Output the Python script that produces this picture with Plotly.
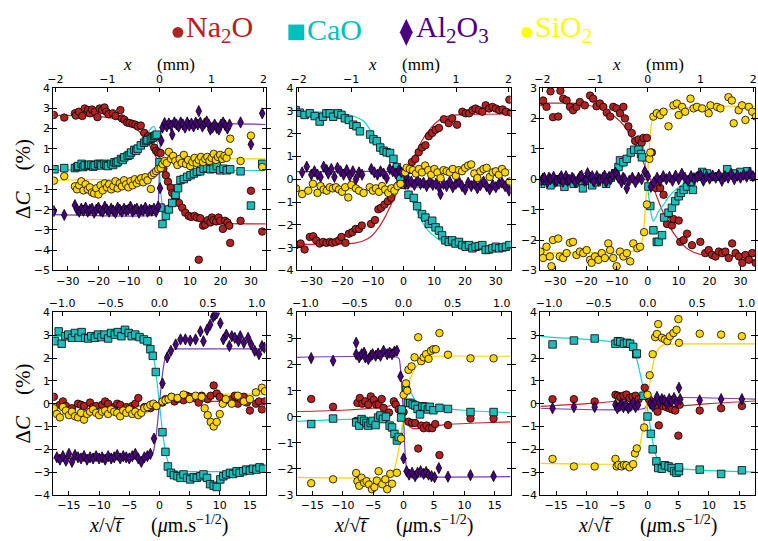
import plotly.graph_objects as go

W, H = 758, 541

# ------------------------------------------------------------------ data
# each list holds (x/sqrt(t), deltaC) pairs
p1_na = [(-34.6,2.67),(-31.2,2.54),(-27.7,2.75),(-27.4,2.64),(-26.4,2.83),(-25.3,2.62),(-24.5,2.99),(-23.4,2.91),(-22.8,2.75),(-22.1,2.94),(-21.2,2.83),(-20.3,2.56),(-19.6,2.99),(-18.8,2.91),(-18.0,3.04),(-17.4,2.83),(-16.7,2.71),(-15.3,2.75),(-14.4,2.62),(-12.8,2.91),(-12.3,2.50),(-11.5,2.43),(-10.6,2.30),(-9.8,2.27),(-8.8,2.23),(-7.9,2.19),(-7.1,2.10),(-6.1,2.15),(-5.0,1.79),(-3.7,1.62),(-2.8,1.43),(-1.7,1.06),(-1.1,0.90),(-0.4,0.82),(0.4,0.79),(1.3,0.02),(2.1,-0.30),(2.8,-0.62),(3.7,-0.91),(4.2,-1.18),(5.3,-1.43),(6.4,-1.67),(7.5,-1.91),(8.5,-2.15),(9.6,-2.31),(10.4,-2.36),(11.5,-2.31),(12.3,-2.39),(12.9,-4.47),(13.4,-2.42),(14.3,-2.79),(15.0,-2.74),(15.8,-2.52),(16.7,-2.63),(17.2,-2.39),(17.7,-2.52),(18.6,-2.58),(19.4,-2.39),(19.9,-2.55),(20.8,-2.95),(21.5,-2.55),(22.3,-2.63),(22.9,-2.79),(23.2,-3.64),(26.6,-2.55),(30.0,-1.07),(33.7,-3.08)]
p1_ca = [(-34.4,-0.01),(-31.2,0.05),(-27.7,0.05),(-27.0,0.10),(-26.6,0.15),(-25.5,0.26),(-25.0,0.10),(-24.5,0.18),(-23.4,0.15),(-23.0,0.22),(-22.3,0.21),(-21.7,0.12),(-21.2,0.18),(-20.1,0.26),(-19.5,0.25),(-19.0,0.18),(-18.0,0.26),(-17.4,0.20),(-16.9,0.15),(-15.8,0.26),(-15.2,0.20),(-14.7,0.34),(-14.1,0.30),(-13.6,0.37),(-12.6,0.50),(-12.0,0.45),(-11.5,0.58),(-10.4,0.66),(-9.8,0.70),(-9.3,0.82),(-8.2,0.95),(-7.6,0.90),(-7.1,1.01),(-6.1,1.17),(-5.0,1.30),(-4.4,1.38),(-3.9,1.43),(-2.8,1.49),(-2.2,1.55),(-1.7,1.62),(-1.3,1.65),(-0.9,1.70),(0.0,0.34),(0.4,-1.90),(1.0,-2.71),(2.1,-2.31),(3.1,-1.99),(4.2,-1.67),(5.3,-1.27),(6.1,-0.94),(6.9,-0.54),(8.0,-0.49),(9.1,-0.38),(10.2,-0.30),(11.3,-0.22),(12.3,-0.14),(13.4,-0.11),(14.5,0.02),(15.6,0.05),(16.7,-0.01),(17.7,0.02),(18.8,0.15),(19.9,-0.06),(21.0,0.02),(22.1,-0.06),(23.2,-0.01),(26.6,-0.11),(30.0,-1.80),(33.7,0.26)]
p1_al = [(-34.6,-2.07),(-31.2,-2.26),(-27.7,-1.78),(-27.0,-2.0),(-26.3,-2.1),(-25.6,-1.95),(-24.9,-2.05),(-24.2,-1.9),(-23.5,-2.1),(-22.8,-2.0),(-22.1,-1.95),(-21.4,-2.15),(-20.7,-2.0),(-20.0,-1.9),(-19.3,-2.05),(-18.6,-2.1),(-17.9,-1.85),(-17.2,-2.0),(-16.5,-2.1),(-15.8,-1.95),(-15.1,-2.05),(-14.4,-2.15),(-13.7,-1.9),(-13.0,-2.0),(-12.3,-2.1),(-11.6,-1.95),(-10.9,-2.05),(-10.2,-2.0),(-9.5,-1.85),(-8.8,-2.1),(-8.1,-2.0),(-7.4,-1.95),(-6.7,-2.15),(-6.0,-2.0),(-5.3,-2.05),(-4.6,-1.9),(-3.9,-2.1),(-3.2,-2.0),(-2.5,-2.05),(-1.8,-1.95),(-1.1,-2.1),(-0.4,-1.85),(0.2,-0.94),(0.6,1.4),(1.0,2.05),(1.7,2.27),(2.4,2.1),(3.1,2.25),(3.8,2.15),(4.2,1.7),(4.9,2.3),(5.6,2.2),(6.3,2.1),(7.0,2.3),(7.7,2.2),(8.4,2.05),(9.1,2.3),(9.8,2.15),(10.5,2.25),(11.2,2.1),(11.9,2.3),(12.6,2.2),(12.9,2.86),(13.4,2.3),(14.1,2.1),(14.8,2.25),(15.5,2.35),(16.2,2.2),(16.7,1.95),(17.4,2.05),(18.1,2.2),(18.8,2.03),(19.5,1.95),(20.2,2.2),(20.9,2.3),(21.6,2.15),(22.3,2.0),(23.0,2.2),(26.6,2.30),(30.0,1.22),(33.7,2.75)]
p1_si = [(-34.6,-0.57),(-31.2,-0.35),(-27.7,-0.85),(-27.0,-1.0),(-26.3,-0.8),(-25.6,-0.6),(-24.9,-1.05),(-24.2,-0.75),(-23.5,-1.0),(-22.8,-0.9),(-22.1,-1.15),(-21.4,-1.2),(-20.7,-0.95),(-20.0,-1.25),(-19.3,-0.8),(-18.6,-1.05),(-17.9,-0.7),(-17.2,-0.9),(-16.5,-0.75),(-15.8,-1.0),(-15.1,-0.85),(-14.4,-0.6),(-13.7,-0.95),(-13.0,-0.7),(-12.3,-0.85),(-11.6,-0.55),(-10.9,-0.75),(-10.2,-0.9),(-9.5,-0.6),(-8.8,-0.8),(-8.1,-0.5),(-7.4,-0.7),(-6.7,-0.55),(-6.0,-0.45),(-5.3,-0.65),(-4.6,-0.4),(-3.9,-0.55),(-2.8,-0.98),(-2.5,-0.3),(-1.8,-0.2),(-1.1,-0.1),(-0.4,0.0),(0.4,0.05),(1.0,0.25),(1.7,0.4),(2.4,0.3),(3.1,0.85),(3.8,0.5),(4.5,0.65),(5.2,0.4),(5.9,0.2),(6.6,0.5),(7.3,0.3),(8.0,0.7),(8.7,0.25),(9.4,0.45),(10.1,0.15),(10.8,0.35),(11.5,0.55),(12.2,0.3),(12.9,0.45),(13.6,0.6),(14.3,0.35),(15.0,0.5),(15.7,0.6),(16.4,0.4),(17.1,0.55),(17.8,0.75),(18.5,0.45),(19.2,0.6),(19.9,0.7),(20.6,0.5),(21.3,0.65),(22.0,0.55),(22.7,0.85),(23.2,1.5),(26.6,0.40),(30.0,1.65),(33.7,0.1)]
p1_na_fit = [(-35,2.65),(-25,2.64),(-20,2.6),(-15,2.5),(-12,2.38),(-10,2.25),(-8,2.05),(-6,1.75),(-4,1.35),(-2,0.85),(0,0.25),(2,-0.4),(4,-1.0),(6,-1.55),(8,-1.95),(10,-2.25),(12,-2.45),(15,-2.6),(20,-2.68),(35,-2.7)]
p1_ca_fit = [(-35,-0.05),(-25,-0.03),(-20,0.03),(-16,0.15),(-13,0.35),(-11,0.55),(-9,0.8),(-7,1.1),(-5,1.5),(-3.5,1.85),(-2.5,2.05),(-1.8,2.1),(-1.2,1.9),(-0.6,1.2),(0,0.0),(0.5,-1.2),(1.0,-1.8),(1.5,-2.0),(2.5,-1.85),(4,-1.45),(5.5,-1.0),(7,-0.65),(9,-0.38),(12,-0.2),(16,-0.1),(25,-0.07),(35,-0.07)]
p1_al_fit = [(-35,-2.25),(-1.2,-2.25),(-0.6,-2.1),(-0.2,-1.0),(0,0.0),(0.3,1.3),(0.7,2.05),(1.2,2.2),(35,2.2)]
p1_si_fit = [(-35,-0.55),(-20,-0.52),(-10,-0.48),(-6,-0.4),(-3,-0.25),(-1,-0.1),(0,0.0),(1.5,0.2),(3,0.35),(5,0.45),(8,0.5),(35,0.5)]

p2_na = [(-35.1,-2.89),(-33.5,-2.82),(-32.2,-3.08),(-30.5,-2.53),(-29.4,-2.50),(-28.4,-2.68),(-27.3,-2.82),(-26.2,-2.75),(-25.1,-2.79),(-24.0,-2.75),(-23.2,-2.79),(-22.1,-2.75),(-21.0,-2.68),(-20.2,-2.53),(-18.9,-2.79),(-17.8,-2.39),(-16.7,-2.32),(-15.6,-2.18),(-14.5,-2.18),(-13.6,-2.03),(-10.6,-1.96),(-9.3,-1.79),(-8.2,-1.32),(-7.3,-1.25),(-6.2,-1.11),(-5.1,-0.96),(-4.0,-0.82),(-2.7,-0.39),(-1.6,-0.25),(-0.5,-0.22),(0.5,0.11),(1.6,0.39),(2.7,0.75),(3.8,0.89),(4.9,1.18),(6.0,1.39),(7.1,1.49),(8.2,1.89),(9.3,2.03),(10.4,2.17),(11.5,2.25),(13.1,2.63),(14.7,2.46),(15.8,2.67),(17.4,2.39),(19.1,2.96),(20.2,2.89),(21.3,2.89),(22.4,3.03),(23.4,3.10),(24.5,3.03),(25.6,2.96),(26.7,3.24),(27.8,3.10),(28.9,3.17),(30.0,3.10),(31.1,3.03),(32.2,3.06),(33.3,2.96),(34.4,3.49),(34.9,2.92)]
p2_ca = [(-35.1,3.03),(-33.8,2.92),(-32.2,2.82),(-30.5,2.89),(-28.9,2.77),(-27.3,2.53),(-26.2,2.74),(-25.1,2.89),(-24.0,2.89),(-22.9,2.74),(-21.3,2.89),(-20.2,2.82),(-19.1,2.67),(-17.8,2.60),(-16.4,2.39),(-15.3,2.32),(-14.2,2.10),(-10.9,1.96),(-9.8,1.75),(-8.7,1.67),(-7.6,1.39),(-6.5,1.25),(-5.5,1.18),(-4.4,1.15),(-3.3,0.89),(-2.2,0.53),(-1.1,0.10),(0.5,-0.25),(1.6,-0.68),(3.3,-0.82),(4.4,-1.18),(6.0,-1.53),(7.1,-1.68),(8.2,-1.96),(9.3,-1.82),(10.4,-2.11),(11.5,-2.25),(12.5,-2.46),(13.6,-2.68),(14.7,-2.75),(15.8,-2.68),(16.9,-2.82),(18.0,-2.75),(19.1,-2.89),(20.2,-2.96),(21.3,-2.89),(22.4,-3.03),(23.4,-2.96),(24.5,-2.93),(25.6,-2.89),(26.7,-3.10),(27.8,-3.08),(28.9,-3.03),(30.0,-2.96),(31.1,-3.03),(32.2,-2.99),(33.3,-2.96),(34.4,-2.89)]
p2_al = [(-33.0,0.3),(-31.5,0.55),(-30.0,0.2),(-29.0,0.35),(-28.0,0.2),(-27.0,0.1),(-26.0,0.55),(-25.0,0.4),(-24.5,0.25),(-23.5,0.45),(-22.5,0.1),(-21.5,0.5),(-20.5,0.35),(-19.5,0.2),(-18.5,0.4),(-17.5,0.15),(-16.5,0.35),(-15.5,0.0),(-14.5,0.3),(-13.5,0.2),(-10.5,0.45),(-9.5,0.3),(-8.5,0.2),(-7.5,0.35),(-6.5,0.25),(-5.5,0.05),(-4.5,0.45),(-3.5,0.35),(-2.5,0.25),(-1.5,0.4),(-0.7,0.3),(0.5,-0.2),(1.0,0.1),(1.5,-0.15),(2.5,-0.1),(3.5,-0.25),(4.5,-0.05),(5.5,-0.2),(6.5,-0.15),(7.5,-0.3),(8.5,-0.1),(9.5,-0.25),(10.5,-0.2),(11.5,-0.35),(12.0,-0.65),(13.0,-0.2),(14.0,-0.3),(15.0,-0.1),(16.0,-0.35),(17.0,-0.2),(18.0,-0.1),(19.0,-0.3),(20.0,-0.45),(21.0,-0.15),(22.0,-0.3),(23.0,-0.2),(24.0,-0.4),(25.0,-0.25),(26.0,-0.1),(27.0,-0.3),(28.0,-0.45),(29.0,-0.25),(30.0,-0.35),(31.0,-0.2),(32.0,-0.15),(33.0,-0.3),(34.3,-0.5)]
p2_si = [(-35.0,-0.4),(-33.0,-0.65),(-31.0,-0.5),(-29.5,-0.2),(-28.0,-0.6),(-27.0,-0.3),(-26.0,-0.45),(-25.0,-0.5),(-24.0,-0.35),(-23.0,-0.4),(-22.0,-0.35),(-21.0,-0.45),(-20.0,-0.55),(-19.0,-0.35),(-18.0,-0.8),(-17.0,-0.25),(-15.5,-0.4),(-14.5,-0.5),(-13.0,-0.6),(-11.0,-0.35),(-10.0,-0.5),(-9.0,-0.4),(-8.0,-0.55),(-7.0,-0.3),(-6.0,-0.45),(-5.0,-0.6),(-4.0,-0.4),(-3.0,-0.5),(-2.0,-0.3),(-1.0,-0.2),(0.5,0.3),(1.0,0.5),(2.0,0.45),(3.0,0.4),(4.0,0.25),(5.0,0.45),(6.0,0.3),(7.0,0.6),(8.0,0.4),(9.0,0.2),(10.0,0.45),(11.0,0.3),(12.0,0.05),(13.0,0.4),(14.0,0.35),(15.0,0.3),(16.0,0.45),(17.0,0.15),(18.0,0.4),(19.0,0.35),(20.0,0.5),(21.0,0.6),(22.0,0.65),(23.0,0.25),(24.0,0.05),(25.0,0.35),(26.0,0.45),(27.0,0.5),(28.0,0.1),(29.0,0.3),(30.0,0.35),(31.0,0.2),(32.0,0.45),(33.0,0.3),(34.5,-0.1)]
p2_na_fit = [(-35,-2.86),(-20,-2.84),(-16,-2.8),(-13,-2.7),(-10.5,-2.5),(-8,-2.1),(-6,-1.65),(-4,-1.1),(-2,-0.55),(0,0.02),(2,0.6),(4,1.15),(6,1.7),(8,2.1),(10.5,2.48),(13,2.7),(16,2.8),(20,2.84),(35,2.86)]
p2_ca_fit = [(-35,2.95),(-25,2.94),(-20,2.88),(-16,2.75),(-13,2.55),(-10.5,2.1),(-8,1.7),(-5,1.18),(-3,0.7),(-1.5,0.3),(0,-0.05),(1.5,-0.5),(3,-1.0),(4.5,-1.45),(6,-1.85),(8,-2.25),(10.5,-2.55),(13,-2.78),(16,-2.9),(20,-2.96),(35,-3.0)]
p2_al_fit = [(-35,0.33),(-1,0.33),(-0.3,0.3),(0,0.0),(0.3,-0.3),(1,-0.33),(35,-0.33)]
p2_si_fit = [(-35,-0.48),(-15,-0.48),(-6,-0.47),(-3,-0.42),(-1.5,-0.3),(-0.5,-0.1),(0,0.1),(0.5,0.35),(1.2,0.45),(3,0.45),(35,0.42)]

p3_na = [(-34.8,2.54),(-33.9,2.59),(-32.8,2.38),(-31.5,2.89),(-30.7,2.04),(-29.0,2.06),(-28.3,2.91),(-27.4,2.65),(-26.3,2.59),(-25.2,2.38),(-24.2,2.27),(-23.1,2.38),(-22.0,2.54),(-20.4,2.43),(-18.7,2.75),(-17.7,2.65),(-16.6,2.40),(-15.5,2.49),(-14.4,2.38),(-13.3,2.19),(-12.2,2.06),(-11.2,2.38),(-10.1,2.33),(-9.0,2.17),(-7.9,2.38),(-7.4,2.00),(-6.3,1.74),(-5.2,1.52),(-4.1,1.26),(-3.0,1.31),(-2.0,1.20),(-1.4,1.36),(-0.3,1.36),(1.3,0.88),(2.6,-0.29),(2.9,-0.08),(4.0,-0.29),(5.1,-0.51),(6.2,-1.47),(6.7,-1.15),(7.8,-1.52),(8.3,-1.31),(10.0,-1.36),(10.5,-2.06),(11.6,-2.00),(12.7,-1.79),(14.3,-2.17),(17.0,-2.06),(18.6,-2.43),(19.7,-2.33),(20.8,-2.49),(21.9,-2.54),(23.0,-2.38),(24.1,-2.43),(25.1,-2.38),(26.2,-2.59),(27.3,-2.11),(28.4,-2.43),(29.5,-2.54),(30.6,-2.75),(31.6,-2.49),(32.7,-2.65),(33.8,-2.43),(34.9,-2.75)]
p3_ca = [(-34.5,-0.15),(-33.0,-0.05),(-31.5,-0.2),(-30.0,0.0),(-28.5,-0.1),(-27.0,-0.25),(-25.5,-0.05),(-24.0,-0.15),(-22.5,-0.1),(-21.0,-0.3),(-19.5,-0.05),(-18.0,-0.2),(-16.5,-0.1),(-15.0,0.0),(-13.5,-0.15),(-12.0,0.05),(-10.5,0.2),(-9.5,0.40),(-9.0,0.62),(-7.9,0.56),(-6.8,0.67),(-5.5,0.88),(-4.4,0.97),(-3.0,0.97),(-2.2,0.83),(-1.9,0.72),(0.2,-0.24),(0.8,-0.88),(1.8,-1.68),(2.9,-2.06),(3.5,-2.06),(4.6,-1.84),(5.3,-1.26),(6.7,-1.10),(7.8,-0.94),(8.9,-0.72),(10.0,-0.56),(10.7,-0.45),(11.6,-0.35),(12.7,-0.24),(14.1,-0.08),(14.6,-0.35),(15.9,0.08),(17.6,0.24),(19.2,0.19),(21.3,0.08),(23.0,0.08),(25.7,0.33),(27.8,0.19),(30.0,0.24),(32.2,0.26),(34.3,0.08)]
p3_al = [(-34.5,-0.05),(-34.0,0.02),(-33.5,0.05),(-32.5,-0.1),(-32.0,0.05),(-31.5,0.0),(-30.5,0.08),(-30.0,-0.08),(-29.5,-0.05),(-28.5,0.02),(-28.0,0.1),(-27.5,-0.08),(-26.5,0.1),(-26.0,-0.05),(-25.5,-0.02),(-24.5,0.05),(-24.0,0.0),(-23.5,-0.1),(-22.5,0.0),(-22.0,0.08),(-21.5,0.12),(-20.5,-0.05),(-20.0,-0.02),(-19.5,0.2),(-18.5,0.05),(-18.0,0.1),(-17.5,-0.08),(-16.5,0.1),(-16.0,-0.05),(-15.5,0.0),(-14.5,0.05),(-14.0,0.12),(-13.5,-0.1),(-12.5,0.08),(-12.0,0.0),(-11.5,0.15),(-10.5,0.22),(-10.0,0.15),(-9.5,0.05),(-8.5,-0.1),(-8.0,0.05),(-7.5,0.0),(-6.8,-0.3),(-6.0,-0.05),(-5.0,0.05),(-4.0,-0.1),(-3.0,0.05),(-2.0,0.0),(-1.0,0.25),(0.0,0.1),(1.0,-0.25),(2.0,-0.1),(3.0,0.05),(4.0,-0.05),(5.0,0.1),(6.0,0.0),(7.0,0.08),(8.0,-0.05),(9.0,0.12),(10.0,0.0),(11.0,0.18),(12.0,0.05),(13.0,-0.05),(14.0,0.1),(15.0,0.0),(16.0,0.08),(17.0,0.15),(18.0,-0.05),(19.0,0.1),(20.0,0.02),(21.0,0.12),(22.0,0.05),(23.0,0.15),(24.0,-0.05),(25.0,0.1),(26.0,0.05),(27.0,0.18),(28.0,0.0),(29.0,0.12),(30.0,0.05),(31.0,0.15),(32.0,0.08),(33.0,0.2),(34.0,0.1)]
p3_si = [(-34.8,-2.38),(-33.9,-2.59),(-32.8,-2.22),(-31.7,-2.54),(-31.2,-2.86),(-30.7,-2.00),(-29.0,-1.95),(-28.5,-2.54),(-27.4,-2.59),(-26.3,-2.43),(-25.2,-2.09),(-24.2,-2.06),(-23.1,-2.49),(-22.0,-2.38),(-20.9,-2.43),(-19.8,-2.33),(-18.7,-2.65),(-18.2,-2.75),(-17.1,-2.54),(-16.0,-2.65),(-14.9,-2.43),(-13.9,-2.59),(-12.8,-2.11),(-12.2,-2.33),(-11.2,-2.59),(-10.1,-2.86),(-9.0,-2.38),(-7.9,-2.54),(-6.8,-2.43),(-5.7,-2.70),(-4.7,-2.11),(-3.4,-2.27),(-2.5,-2.22),(-1.2,-1.74),(-0.3,-0.83),(0.5,0.67),(0.8,0.88),(1.8,2.06),(2.9,2.17),(4.0,2.11),(5.1,2.22),(6.7,1.74),(8.3,2.43),(9.4,2.49),(10.0,2.11),(11.1,2.38),(12.1,2.22),(13.8,2.65),(14.8,2.33),(15.9,2.38),(17.6,2.33),(19.7,2.17),(20.3,2.43),(22.4,2.38),(23.5,2.33),(26.1,2.70),(27.2,2.59),(27.8,1.84),(29.4,2.27),(30.5,2.43),(31.6,1.95),(32.7,2.38),(33.8,2.22),(35.0,2.06)]
p3_na_fit = [(-35,2.5),(-25,2.5),(-20,2.45),(-15,2.3),(-12,2.15),(-10,2.0),(-8,1.8),(-6,1.5),(-4,1.15),(-2,0.7),(0,0.2),(1,-0.05),(3,-0.6),(5,-1.1),(7,-1.55),(10,-2.0),(13,-2.3),(17,-2.47),(25,-2.52),(35,-2.53)]
p3_ca_fit = [(-35,-0.03),(-25,-0.02),(-18,0.0),(-14,0.08),(-11,0.2),(-9,0.32),(-7,0.5),(-5.5,0.7),(-4,0.95),(-3,1.15),(-2.2,1.3),(-1.7,1.25),(-1.2,0.9),(-0.6,0.3),(0,-0.3),(0.6,-0.8),(1.2,-1.2),(1.8,-1.38),(2.4,-1.3),(3.5,-1.05),(5,-0.85),(7,-0.55),(9.5,-0.3),(12.5,-0.1),(16,0.0),(20,0.03),(35,0.05)]
p3_al_fit = [(-35,0.0),(0,0.0),(35,0.02)]
p3_si_fit = [(-35,-2.42),(-10,-2.4),(-4,-2.35),(-2.5,-2.25),(-1.8,-2.0),(-1.2,-1.5),(-0.6,-0.6),(0,0.3),(0.6,1.2),(1.2,1.85),(1.8,2.1),(3,2.2),(6,2.28),(12,2.35),(20,2.4),(35,2.4)]

p4_na = [(-17.5,0.3),(-16.5,-0.05),(-16.0,0.1),(-15.5,-0.1),(-14.5,-0.2),(-13.5,0.0),(-13.0,-0.05),(-12.5,-0.1),(-11.5,0.05),(-11.0,-0.15),(-10.5,-0.1),(-9.5,-0.05),(-9.0,0.1),(-8.5,0.0),(-7.5,-0.15),(-7.0,0.0),(-6.5,-0.05),(-5.5,-0.15),(-4.5,-0.1),(-4.0,0.0),(-3.5,0.25),(-2.5,-0.15),(-1.5,-0.2),(-0.5,-0.1),(0.5,0.05),(1.0,0.2),(2.0,0.3),(2.5,0.1),(3.0,0.2),(4.0,0.15),(4.5,0.35),(5.0,0.3),(6.0,0.25),(6.5,0.05),(7.0,0.35),(8.0,0.2),(8.5,0.35),(9.0,0.8),(9.5,0.45),(10.0,0.3),(11.0,0.15),(12.0,0.2),(12.5,0.35),(13.0,0.0),(13.5,0.2),(14.0,0.3),(14.5,0.05),(15.0,-0.3),(16.0,0.0),(16.5,0.1),(17.0,-0.25),(17.5,0.1)]
p4_ca = [(-17.3,2.74),(-16.7,3.17),(-16.2,2.63),(-15.6,2.96),(-15.1,3.03),(-14.5,2.89),(-14.0,3.10),(-13.4,2.89),(-12.9,3.14),(-12.3,2.89),(-11.8,2.86),(-11.3,2.96),(-10.7,2.89),(-10.2,3.03),(-9.6,2.92),(-9.1,3.03),(-8.5,2.86),(-8.0,3.10),(-7.4,3.03),(-6.9,3.14),(-6.3,2.96),(-5.7,3.24),(-5.1,3.10),(-4.6,2.96),(-4.0,3.03),(-3.3,2.92),(-2.6,2.82),(-2.0,2.74),(-1.5,2.39),(-1.1,2.10),(-0.6,1.39),(0.5,-1.25),(1.0,-2.11),(1.4,-2.75),(1.9,-3.03),(2.4,-3.13),(3.0,-3.18),(3.5,-3.25),(4.0,-3.10),(4.6,-3.25),(5.1,-3.32),(5.7,-3.22),(6.2,-3.25),(6.8,-3.18),(7.3,-3.10),(7.9,-3.25),(8.4,-3.53),(9.0,-3.60),(9.5,-3.65),(10.1,-3.32),(10.6,-3.18),(11.1,-3.10),(11.7,-3.03),(12.2,-3.08),(12.8,-2.96),(13.3,-3.03),(13.9,-2.96),(14.4,-2.89),(15.0,-2.93),(15.5,-2.85),(16.1,-2.89),(16.6,-2.79),(17.2,-2.85)]
p4_al = [(-17.0,-2.35),(-16.5,-2.45),(-16.0,-2.3),(-15.5,-2.5),(-15.0,-2.2),(-14.5,-2.55),(-14.0,-2.25),(-13.5,-2.35),(-13.0,-2.4),(-12.5,-2.3),(-12.0,-2.45),(-11.5,-2.35),(-11.0,-2.4),(-10.5,-2.3),(-10.0,-2.4),(-9.5,-2.35),(-9.0,-2.45),(-8.5,-2.3),(-8.0,-2.4),(-7.5,-2.35),(-7.0,-2.25),(-6.5,-2.4),(-6.0,-2.3),(-5.5,-2.35),(-5.0,-2.4),(-4.5,-2.3),(-4.0,-2.2),(-3.5,-2.4),(-3.0,-2.55),(-2.5,-2.35),(-2.0,-2.3),(-1.5,-2.2),(-0.9,-1.53),(0.5,0.89),(1.3,2.03),(1.9,2.32),(2.7,2.60),(3.5,2.82),(4.3,2.82),(5.1,2.77),(6.0,2.82),(6.8,3.17),(7.3,2.74),(7.9,3.24),(8.4,3.46),(8.9,3.81),(9.2,3.89),(9.5,3.96),(10.1,3.53),(10.6,2.82),(11.1,3.03),(11.6,2.53),(12.0,2.96),(12.5,2.89),(13.1,2.74),(13.4,2.96),(14.0,2.67),(14.7,2.89),(15.2,2.60),(15.8,2.32),(16.5,2.17),(17.0,2.53),(17.4,2.46)]
p4_si = [(-17.5,-0.2),(-17.0,-0.45),(-16.5,-0.6),(-16.0,-0.15),(-15.5,-0.3),(-15.0,-0.5),(-14.5,-0.35),(-14.0,-0.55),(-13.5,-0.6),(-13.0,-0.4),(-12.5,-0.7),(-12.0,-0.45),(-11.5,-0.35),(-11.0,-0.25),(-10.5,-0.4),(-10.0,-0.5),(-9.5,-0.35),(-9.0,-0.3),(-8.5,-0.45),(-8.0,-0.25),(-7.5,-0.35),(-7.0,-0.4),(-6.5,-0.55),(-6.0,-0.3),(-5.5,-0.4),(-5.0,-0.25),(-4.5,-0.45),(-4.0,-0.35),(-3.5,-0.5),(-3.0,-0.4),(-2.5,-0.2),(-2.0,-0.15),(-1.5,-0.05),(-1.0,0.0),(-0.5,-0.1),(0.5,0.1),(1.0,0.15),(1.5,0.2),(2.0,0.3),(3.0,0.25),(4.0,0.4),(5.0,0.2),(6.0,0.35),(7.0,0.3),(7.5,-0.2),(8.0,-0.5),(8.5,-0.8),(9.0,-1.0),(9.5,-0.8),(10.0,-0.45),(10.5,0.0),(11.0,0.2),(12.0,0.0),(13.0,0.35),(14.0,0.1),(15.0,0.2),(16.0,0.5),(17.0,0.7),(17.5,0.55)]
p4_na_fit = [(-17.6,-0.1),(-3,-0.1),(-1.5,-0.08),(0,0.0),(1.5,0.08),(3,0.1),(17.6,0.1)]
p4_ca_fit = [(-17.6,2.95),(-3,2.95),(-2,2.85),(-1.5,2.6),(-1,2.1),(-0.5,1.2),(0,0.0),(0.5,-1.2),(1,-2.1),(1.5,-2.6),(2,-2.85),(3,-2.95),(17.6,-2.95)]
p4_al_fit = [(-17.6,-2.4),(-2,-2.4),(-1.5,-2.35),(-1,-2.1),(-0.5,-1.3),(0,0.0),(0.5,1.3),(1,2.05),(1.5,2.32),(2,2.38),(3,2.4),(17.6,2.4)]
p4_si_fit = [(-17.6,-0.45),(-3,-0.45),(-2,-0.38),(-1,-0.2),(0,0.05),(1,0.25),(2,0.36),(3,0.4),(17.6,0.42)]

p5_na = [(-15.2,0.68),(-11.6,0.38),(-7.8,-0.16),(-7.6,0.53),(-7.2,0.72),(-6.8,0.50),(-6.3,0.59),(-5.8,0.47),(-5.4,0.78),(-4.9,0.65),(-4.5,0.47),(-4.1,0.47),(-3.6,0.68),(-3.3,0.34),(-2.4,0.16),(-1.6,0.59),(-1.3,0.47),(-0.8,0.28),(-0.4,0.22),(0.0,0.18),(0.8,-0.19),(1.4,-0.24),(1.9,-0.24),(2.4,-1.22),(2.9,-0.34),(3.3,-0.44),(3.8,-0.34),(4.2,-0.44),(4.7,-0.44),(5.2,-0.28),(5.9,-1.47),(7.3,-0.32),(11.0,-0.07),(14.8,-0.07)]
p5_ca = [(-15.2,-0.28),(-11.6,-0.07),(-7.8,-0.22),(-7.3,-0.34),(-6.9,-0.09),(-6.5,-0.16),(-6.1,-0.24),(-5.8,-0.34),(-5.4,-0.24),(-5.1,-0.16),(-4.6,-0.32),(-4.2,-0.03),(-3.8,0.05),(-3.4,-0.09),(-2.9,0.00),(-2.3,-0.34),(-1.9,-0.41),(-1.5,-0.66),(-1.1,-0.91),(-0.8,-0.78),(-0.4,-0.03),(-0.3,0.28),(0.4,1.03),(0.7,0.53),(1.1,0.53),(1.5,0.47),(1.9,0.43),(2.3,0.30),(2.7,0.09),(3.1,0.40),(3.5,0.38),(4.0,0.28),(4.3,0.38),(4.9,0.25),(5.9,0.34),(7.3,0.30),(11.0,0.18),(14.8,0.18)]
p5_al = [(-15.2,2.25),(-11.6,2.15),(-7.8,2.84),(-7.8,2.40),(-7.3,2.28),(-6.9,2.40),(-6.5,2.46),(-6.3,2.28),(-5.8,2.21),(-5.4,2.34),(-5.1,2.40),(-4.6,2.34),(-4.2,2.43),(-3.8,2.34),(-3.3,2.53),(-2.7,2.40),(-2.3,2.46),(-1.9,2.40),(-1.5,2.50),(-1.1,2.53),(-0.5,1.55),(0.0,-1.60),(0.5,-2.09),(0.9,-2.22),(1.4,-2.15),(1.9,-2.28),(2.3,-2.15),(2.8,-2.09),(3.3,-2.19),(3.7,-2.12),(4.1,-2.22),(4.6,-2.28),(5.1,-2.32),(5.8,-1.97),(7.3,-2.30),(11.0,-2.24),(14.8,-2.28)]
p5_si = [(-15.2,-2.55),(-11.6,-2.40),(-7.8,-2.16),(-7.6,-2.47),(-7.3,-2.65),(-6.9,-2.34),(-6.5,-2.53),(-6.1,-2.47),(-5.7,-2.60),(-5.2,-2.78),(-4.8,-2.70),(-4.4,-2.45),(-4.1,-2.09),(-3.5,-2.59),(-3.0,-2.40),(-2.7,-2.78),(-2.2,-2.19),(-1.9,-2.57),(-1.1,-2.15),(-0.4,-0.84),(0.0,0.84),(0.4,1.28),(0.6,1.00),(0.8,1.80),(1.3,1.93),(1.8,2.28),(2.4,3.05),(2.9,2.13),(3.3,2.28),(3.7,2.40),(4.1,2.22),(4.5,2.53),(4.9,2.59),(5.3,2.59),(5.9,3.21),(7.3,2.38),(11.0,2.24),(14.8,2.24)]
p5_na_fit = [(-17.6,0.2),(-10,0.25),(-5,0.33),(-3,0.38),(-1.5,0.45),(-0.8,0.4),(0,0.1),(0.5,-0.2),(1,-0.38),(1.5,-0.45),(2.5,-0.45),(4,-0.38),(7,-0.3),(12,-0.24),(17.6,-0.2)]
p5_ca_fit = [(-17.6,-0.18),(-12,-0.12),(-7,-0.08),(-4,-0.1),(-2,-0.3),(-1,-0.7),(-0.5,-0.85),(0,0.0),(0.5,0.8),(1,1.0),(1.5,0.8),(2,0.6),(3,0.45),(5,0.35),(10,0.25),(17.6,0.15)]
p5_al_fit = [(-17.6,2.28),(-1,2.28),(-0.7,2.2),(-0.4,1.5),(0,-0.1),(0.3,-1.6),(0.6,-2.1),(1,-2.25),(2,-2.3),(17.6,-2.3)]
p5_si_fit = [(-17.6,-2.33),(-3,-2.33),(-2,-2.25),(-1.5,-2.0),(-1,-1.5),(-0.5,-0.8),(0,0.0),(0.5,0.8),(1,1.4),(2,1.9),(3,2.15),(4,2.28),(5,2.32),(17.6,2.32)]

p6_na = [(-15.6,0.2),(-12.1,0.2),(-8.7,0.1),(-5.3,0.39),(-4.9,0.35),(-4.5,0.3),(-4.0,0.35),(-3.5,0.4),(-3.0,0.25),(-2.5,0.3),(-2.0,0.35),(-1.5,0.2),(-0.5,0.7),(0.2,0.2),(0.8,-0.05),(1.3,-0.15),(1.6,-0.35),(1.8,-0.95),(2.4,-0.1),(3.0,-0.15),(3.5,-0.2),(4.0,-0.25),(4.5,-0.3),(5.0,-1.4),(5.2,-0.05),(8.5,-0.3),(12.0,-0.2),(15.4,-0.1)]
p6_ca = [(-15.6,2.60),(-12.1,2.77),(-8.7,2.86),(-5.3,2.63),(-4.9,2.74),(-4.5,2.72),(-3.9,2.63),(-3.4,2.67),(-2.9,2.63),(-2.4,2.49),(-1.9,2.17),(-1.8,2.20),(-0.7,0.35),(-0.05,-0.56),(0.5,-1.32),(0.8,-2.00),(1.4,-2.53),(1.7,-2.82),(2.3,-2.85),(2.8,-2.70),(3.4,-2.75),(3.9,-2.82),(4.3,-2.96),(4.7,-3.03),(5.1,-2.96),(5.1,-2.79),(8.5,-2.89),(12.0,-3.08),(15.4,-2.92)]
p6_al = [(-15.6,-0.2),(-12.1,-0.15),(-8.7,-0.15),(-5.3,-0.05),(-5.0,-0.2),(-4.6,-0.1),(-4.3,0.0),(-4.0,-0.15),(-3.6,-0.05),(-3.2,-0.2),(-2.8,-0.1),(-2.4,0.05),(-2.0,-0.15),(-1.6,-0.05),(0.4,0.0),(0.8,-0.1),(1.2,0.1),(1.5,0.3),(1.9,0.05),(2.3,0.2),(2.7,0.15),(3.1,0.0),(3.5,0.2),(3.9,0.1),(4.3,0.25),(4.7,0.05),(5.1,0.7),(5.3,0.2),(8.5,0.15),(12.0,0.2),(15.4,0.2)]
p6_si = [(-15.6,-2.42),(-12.1,-2.75),(-8.7,-2.75),(-5.3,-2.42),(-5.1,-2.75),(-4.8,-2.68),(-4.3,-2.75),(-3.9,-2.68),(-3.5,-2.70),(-3.0,-2.79),(-2.4,-2.65),(-2.1,-2.18),(-1.8,-1.96),(-0.6,-1.04),(-0.05,0.39),(0.3,1.25),(0.8,2.17),(1.2,2.92),(1.5,3.06),(1.7,3.49),(2.3,2.89),(2.8,2.82),(3.2,2.74),(3.6,2.96),(4.2,3.10),(4.7,3.24),(5.0,3.71),(5.1,2.67),(8.5,3.07),(12.0,3.03),(15.4,2.96)]
p6_na_fit = [(-17.6,-0.12),(-10,0.0),(-5,0.12),(-2,0.22),(-1,0.24),(0,0.1),(1,-0.15),(2,-0.22),(3,-0.2),(5,-0.12),(10,0.0),(17.6,0.12)]
p6_ca_fit = [(-17.6,2.95),(-15,2.9),(-10,2.82),(-6,2.72),(-4,2.65),(-3,2.5),(-2,2.1),(-1,1.0),(0,-0.3),(0.5,-1.2),(1,-1.9),(1.5,-2.4),(2,-2.6),(3,-2.75),(5,-2.85),(10,-2.93),(17.6,-3.0)]
p6_al_fit = [(-17.6,-0.2),(-0.5,-0.2),(0,0.0),(0.5,0.2),(17.6,0.2)]
p6_si_fit = [(-17.6,-2.62),(-3,-2.62),(-2,-2.5),(-1.5,-2.1),(-1,-1.4),(-0.5,-0.6),(0,0.3),(0.5,1.2),(1,1.9),(1.5,2.3),(2,2.5),(3,2.6),(5,2.62),(17.6,2.62)]

species_names = ["Na<sub>2</sub>O", "CaO", "Al<sub>2</sub>O<sub>3</sub>", "SiO<sub>2</sub>"]
top_row_xticks = [-30, -20, -10, 0, 10, 20, 30]
bottom_row_xticks = [-15, -10, -5, 0, 5, 10, 15]
top_row_mm_ticks = [-2, -1, 0, 1, 2]
bottom_row_mm_ticks = [-1.0, -0.5, 0.0, 0.5, 1.0]

# ------------------------------------------------------------------ styles
marker_fill = ["#b22222", "#1fbcbc", "#4b0082", "#ffd700"]
marker_symbol = ["circle", "square", "diamond-tall", "circle"]
marker_size = [7.5, 7.5, 8, 7.5]
line_color = ["#c02a2a", "#18d2d2", "#7a3cb8", "#ffd000"]
legend_text_color = ["#b22222", "#00bfbf", "#4b0082", "#ffff00"]

panels = [
    dict(pts=[p1_na, p1_ca, p1_al, p1_si], fit=[p1_na_fit, p1_ca_fit, p1_al_fit, p1_si_fit], yr=(-5, 4), col=0, row=0),
    dict(pts=[p2_na, p2_ca, p2_al, p2_si], fit=[p2_na_fit, p2_ca_fit, p2_al_fit, p2_si_fit], yr=(-4, 4), col=1, row=0),
    dict(pts=[p3_na, p3_ca, p3_al, p3_si], fit=[p3_na_fit, p3_ca_fit, p3_al_fit, p3_si_fit], yr=(-3, 3), col=2, row=0),
    dict(pts=[p4_na, p4_ca, p4_al, p4_si], fit=[p4_na_fit, p4_ca_fit, p4_al_fit, p4_si_fit], yr=(-4, 4), col=0, row=1),
    dict(pts=[p5_na, p5_ca, p5_al, p5_si], fit=[p5_na_fit, p5_ca_fit, p5_al_fit, p5_si_fit], yr=(-3, 4), col=1, row=1),
    dict(pts=[p6_na, p6_ca, p6_al, p6_si], fit=[p6_na_fit, p6_ca_fit, p6_al_fit, p6_si_fit], yr=(-4, 4), col=2, row=1),
]

col_px = [(47.7, 262.0), (293.3, 509.3), (539.3, 756.3)]
row_px = [(84.0, 271.0), (314.0, 501.0)]

def px_x(p):
    return p / W

def px_y(p):
    return 1 - p / H

tick_font = dict(family="DejaVu Sans", size=11, color="black")
serif = "Liberation Serif"

fig = go.Figure()
layout = {}

for i, pn in enumerate(panels):
    k = i + 1
    xa = "x" if k == 1 else f"x{k}"
    ya = "y" if k == 1 else f"y{k}"
    top_k = k + 6
    for s in range(4):
        xs = [p[0] for p in pn["fit"][s]]
        ys = [p[1] for p in pn["fit"][s]]
        fig.add_trace(go.Scatter(x=xs, y=ys, mode="lines", xaxis=xa, yaxis=ya,
                                 line=dict(color=line_color[s], width=1.2, shape="spline", smoothing=0.6),
                                 showlegend=False, hoverinfo="skip"))
    for s in range(4):
        xs = [p[0] for p in pn["pts"][s]]
        ys = [p[1] for p in pn["pts"][s]]
        fig.add_trace(go.Scatter(x=xs, y=ys, mode="markers", xaxis=xa, yaxis=ya,
                                 marker=dict(symbol=marker_symbol[s], size=marker_size[s], color=marker_fill[s],
                                             line=dict(color="black", width=0.8)),
                                 showlegend=False))
    # placeholder trace so the top (mm) axis gets drawn
    fig.add_trace(go.Scatter(x=[0], y=[0], xaxis=f"x{top_k}", yaxis=ya, mode="markers",
                             marker=dict(size=1, opacity=0), showlegend=False, hoverinfo="skip"))

    c0, c1 = col_px[pn["col"]]
    r0, r1 = row_px[pn["row"]]
    top_row = pn["row"] == 0
    xr = (-34.8, 34.8) if top_row else (-17.6, 17.6)
    xt = top_row_xticks if top_row else bottom_row_xticks
    mr = (-2.04, 2.04) if top_row else (-1.09, 1.09)
    mt = top_row_mm_ticks if top_row else bottom_row_mm_ticks
    ylo, yhi = pn["yr"]

    common = dict(showgrid=False, zeroline=False, showline=True, linecolor="black", linewidth=1,
                  ticks="inside", ticklen=4, tickwidth=1, tickcolor="black", tickfont=tick_font)
    layout["xaxis" if k == 1 else f"xaxis{k}"] = dict(
        domain=[px_x(c0), px_x(c1)], anchor=ya, range=list(xr), tickvals=xt, mirror=True, **common)
    layout["yaxis" if k == 1 else f"yaxis{k}"] = dict(
        domain=[px_y(r1), px_y(r0)], anchor=xa, range=[ylo - 0.001, yhi + 0.001],
        tickvals=list(range(ylo, yhi + 1)), mirror="allticks", **common)
    layout[f"xaxis{top_k}"] = dict(
        overlaying=xa, anchor=ya, side="top", range=list(mr), tickvals=mt,
        ticktext=[(f"{v:.0f}" if top_row else f"{v:.1f}").replace("-", "\u2212") for v in mt], **common)

fig.update_layout(**layout)

annotations = []
nb = "\u00a0"
for r0, r1 in row_px:
    annotations.append(dict(x=px_x(17), y=px_y((r0 + r1) / 2), xref="paper", yref="paper",
                            text=f"\u0394<i>C</i>{nb*4}(%)", textangle=-90, showarrow=False,
                            font=dict(family=serif, size=21, color="black"),
                            xanchor="center", yanchor="middle"))
for c0, c1 in col_px:
    cx = px_x((c0 + c1) / 2)
    annotations.append(dict(x=cx, y=px_y(60), xref="paper", yref="paper",
                            text=f"<i>x</i>{nb*6}(mm)", showarrow=False,
                            font=dict(family=serif, size=17, color="black"),
                            xanchor="center", yanchor="middle"))
    annotations.append(dict(x=cx, y=px_y(531), xref="paper", yref="paper",
                            text=f"<i>x</i>/\u221a<i>t\u0305</i>{nb*6}(<i>\u03bc</i>m.s<sup>\u22121/2</sup>)",
                            showarrow=False, font=dict(family=serif, size=20, color="black"),
                            xanchor="center", yanchor="middle"))

legend_text_x = [180, 302, 412, 532]
for s in range(4):
    annotations.append(dict(x=px_x(legend_text_x[s]), y=px_y(24), xref="paper", yref="paper",
                            text=species_names[s], showarrow=False,
                            font=dict(family=serif, size=30, color=legend_text_color[s]),
                            xanchor="left", yanchor="middle"))

shapes = []
cy = 27
shapes.append(dict(type="circle", xref="paper", yref="paper", x0=px_x(168), x1=px_x(179), y0=px_y(cy + 5.5), y1=px_y(cy - 5.5),
                   fillcolor=legend_text_color[0], line=dict(width=0)))
shapes.append(dict(type="rect", xref="paper", yref="paper", x0=px_x(285), x1=px_x(301), y0=px_y(cy + 8), y1=px_y(cy - 8),
                   fillcolor=legend_text_color[1], line=dict(width=0)))
shapes.append(dict(type="path", xref="paper", yref="paper",
                   path=f"M {px_x(404)},{px_y(cy - 14)} L {px_x(410.5)},{px_y(cy)} L {px_x(404)},{px_y(cy + 14)} L {px_x(397.5)},{px_y(cy)} Z",
                   fillcolor=legend_text_color[2], line=dict(width=0)))
shapes.append(dict(type="circle", xref="paper", yref="paper", x0=px_x(520), x1=px_x(531), y0=px_y(cy + 5.5), y1=px_y(cy - 5.5),
                   fillcolor=legend_text_color[3], line=dict(width=0)))

fig.update_layout(width=W, height=H, margin=dict(l=0, r=0, t=0, b=0),
                  paper_bgcolor="white", plot_bgcolor="white",
                  annotations=annotations, shapes=shapes, showlegend=False)

fig.write_html("out.html", config={"displayModeBar": False},
               post_script="document.body.style.margin='0px';document.body.style.overflow='hidden';")
